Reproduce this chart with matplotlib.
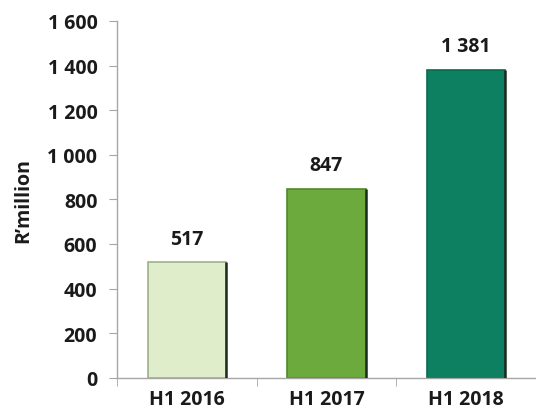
import matplotlib.pyplot as plt
import numpy as np

categories = ['H1 2016', 'H1 2017', 'H1 2018']
values = [517, 847, 1381]
labels = ['517', '847', '1 381']
bar_colors = ['#DFEDCA', '#6DAA3E', '#0C8060']
edge_colors = ['#9DB08A', '#4F8A2A', '#0A6A4F']
yticks = [0, 200, 400, 600, 800, 1000, 1200, 1400, 1600]
ytick_labels = ['0', '200', '400', '600', '800', '1 000', '1 200', '1 400', '1 600']

plt.rcParams['font.family'] = ['Open Sans', 'DejaVu Sans']
fs = 14

fig = plt.figure(figsize=(5.36, 4.14), dpi=100)
ax = fig.add_axes([0.218, 0.085, 0.782, 0.862])

x = np.arange(len(categories))
w = 0.56
ax.bar(x, values, width=w, color=bar_colors, edgecolor=edge_colors, linewidth=1.2, zorder=2)
# dark shadow on right edge of each bar
ax.vlines(x + w / 2, 0, values, colors='#1E2A1E', linewidth=1.8, zorder=3)

for xi, v, lab in zip(x, values, labels):
    ax.annotate(lab, (xi, v), xytext=(0, 10), textcoords='offset points',
                ha='center', va='bottom', fontsize=fs, fontweight='bold', color='#1A1A1A')

ax.set_xlim(-0.5, 2.5)
ax.set_ylim(0, 1600)
ax.set_yticks(yticks)
ax.set_yticklabels(ytick_labels)
ax.set_xticks(x)
ax.set_xticklabels(categories)
ax.set_xticks([-0.5, 0.5, 1.5, 2.5], minor=True)

for s in ['top', 'right']:
    ax.spines[s].set_visible(False)
for s in ['left', 'bottom']:
    ax.spines[s].set_color('#A6A6A6')
    ax.spines[s].set_linewidth(1.0)

ax.tick_params(axis='y', length=6, color='#A6A6A6', labelsize=fs, pad=8)
ax.tick_params(axis='x', which='major', length=0, labelsize=fs, pad=8)
ax.tick_params(axis='x', which='minor', length=6, color='#A6A6A6')
for t in ax.get_xticklabels() + ax.get_yticklabels():
    t.set_fontweight('bold')
    t.set_color('#1A1A1A')

ax.set_ylabel('R\u2019million', fontsize=fs, fontweight='bold', color='#1A1A1A', labelpad=10)

fig.savefig('out.png', dpi=100)
